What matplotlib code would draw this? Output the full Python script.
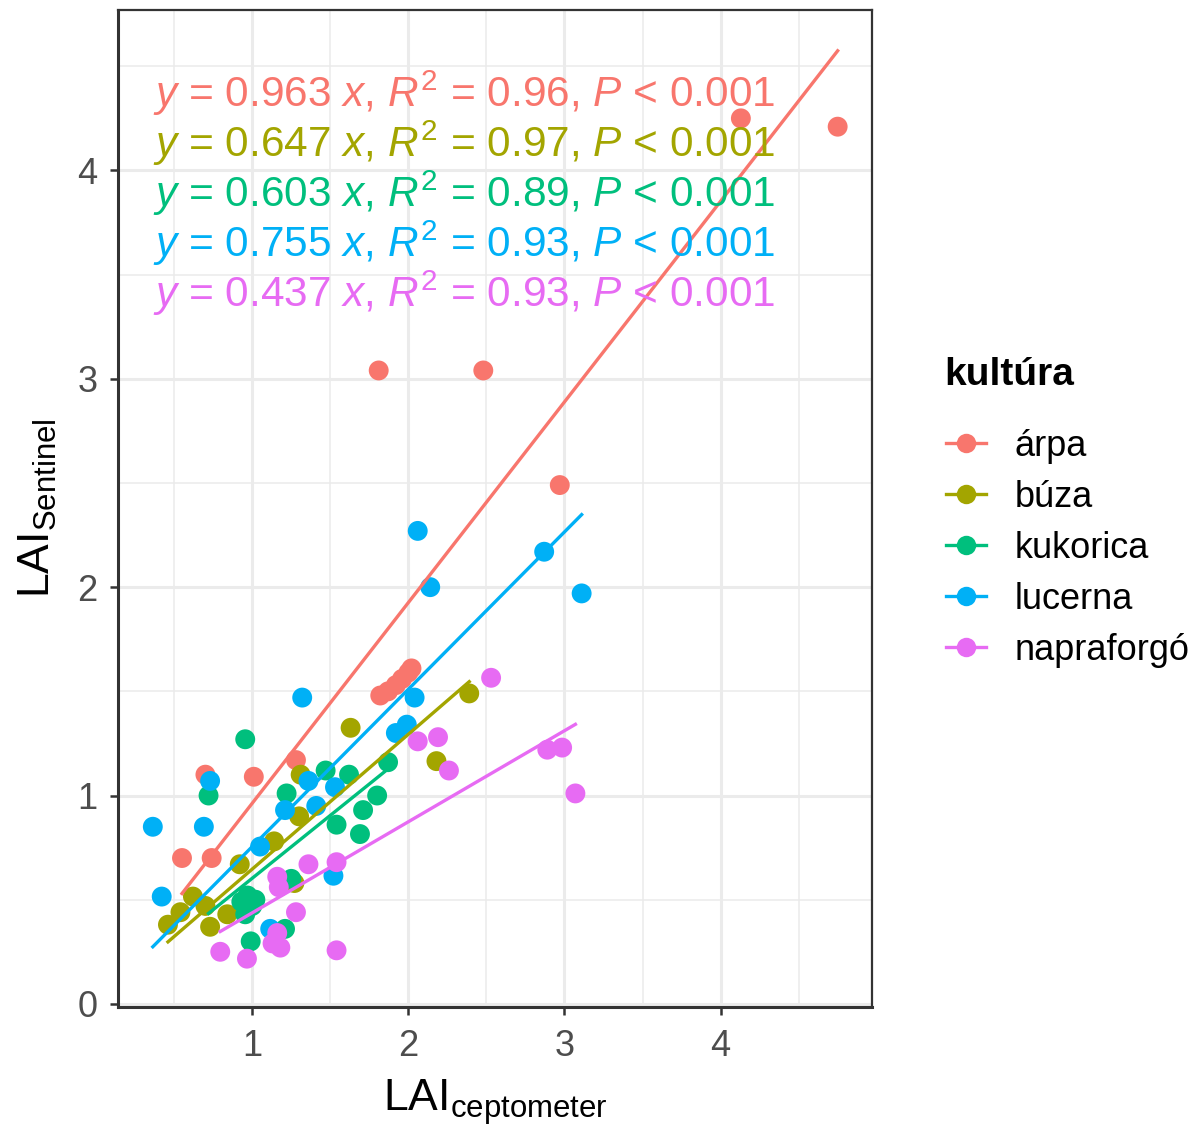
import matplotlib
matplotlib.use('Agg')
import matplotlib.pyplot as plt
from matplotlib.lines import Line2D
from matplotlib.ticker import MultipleLocator
import numpy as np

plt.rcParams['font.family'] = ['Liberation Sans', 'DejaVu Sans']
plt.rcParams['mathtext.fontset'] = 'custom'
plt.rcParams['mathtext.rm'] = 'Liberation Sans'
plt.rcParams['mathtext.it'] = 'Liberation Sans:italic'
plt.rcParams['mathtext.bf'] = 'Liberation Sans:bold'

# kultúrák és színek (ggplot alap paletta)
cultures = ['árpa', 'búza', 'kukorica', 'lucerna', 'napraforgó']
colors = ['#F8766D', '#A3A500', '#00BF7D', '#00B0F6', '#E76BF3']

# LAI ceptometer (x) / LAI Sentinel (y), képről leolvasva
arpa_x = [0.55, 0.70, 0.74, 1.01, 1.28, 1.81, 2.48, 2.97, 1.82, 1.87, 1.92, 1.96, 2.00, 2.02, 4.13, 4.75]
arpa_y = [0.70, 1.10, 0.70, 1.09, 1.17, 3.04, 3.04, 2.49, 1.48, 1.50, 1.53, 1.56, 1.59, 1.61, 4.25, 4.21]

buza_x = [0.46, 0.54, 0.62, 0.70, 0.73, 0.84, 0.92, 1.14, 1.30, 1.31, 1.27, 1.63, 2.18, 2.39]
buza_y = [0.38, 0.44, 0.515, 0.47, 0.37, 0.43, 0.67, 0.78, 0.90, 1.10, 0.58, 1.325, 1.165, 1.49]

kukorica_x = [0.72, 0.955, 0.93, 0.97, 1.00, 1.02, 0.955, 0.99, 1.21, 1.22, 1.25, 1.47, 1.62, 1.54, 1.69, 1.71, 1.80, 1.87]
kukorica_y = [1.00, 1.27, 0.49, 0.52, 0.47, 0.50, 0.43, 0.30, 0.36, 1.01, 0.60, 1.12, 1.10, 0.86, 0.815, 0.93, 1.00, 1.16]

lucerna_x = [0.363, 0.42, 0.69, 0.73, 1.05, 1.115, 1.21, 1.32, 1.36, 1.41, 1.52, 1.53, 1.92, 1.99, 2.04, 2.06, 2.14, 2.87, 3.11]
lucerna_y = [0.85, 0.515, 0.85, 1.07, 0.755, 0.36, 0.93, 1.47, 1.07, 0.95, 0.615, 1.04, 1.30, 1.34, 1.47, 2.27, 2.00, 2.17, 1.97]

napraforgo_x = [0.795, 0.966, 1.13, 1.16, 1.18, 1.16, 1.17, 1.28, 1.36, 1.54, 1.54, 2.06, 2.19, 2.26, 2.53, 2.89, 2.985, 3.07]
napraforgo_y = [0.25, 0.217, 0.29, 0.34, 0.27, 0.61, 0.56, 0.44, 0.67, 0.68, 0.257, 1.26, 1.28, 1.12, 1.565, 1.22, 1.23, 1.01]

xs_all = [arpa_x, buza_x, kukorica_x, lucerna_x, napraforgo_x]
ys_all = [arpa_y, buza_y, kukorica_y, lucerna_y, napraforgo_y]

# illesztés origón át: y = b x
slopes = [0.963, 0.647, 0.603, 0.755, 0.437]
r2_values = [0.96, 0.97, 0.89, 0.93, 0.93]

fig = plt.figure(figsize=(12.02, 11.30), dpi=100)
ax = fig.add_axes([118 / 1202, 1 - 1007 / 1130, 754 / 1202, 997 / 1130])

# pontok
for x, y, c in zip(xs_all, ys_all, colors):
    ax.scatter(x, y, s=205, color=c, edgecolors='none', zorder=3)

# regressziós egyenesek az adott kultúra x-tartományán
for x, b, c in zip(xs_all, slopes, colors):
    xl = np.array([min(x), max(x)])
    ax.plot(xl, b * xl, color=c, linewidth=2.4, zorder=4)

# egyenletek
for i, (b, r2, c) in enumerate(zip(slopes, r2_values, colors)):
    label = rf"$y$ = {b:.3f} $x$, $R^2$ = {r2:.2f}, $P$ < 0.001"
    ax.text(0.047, 1 - (93 + 50 * i - 10) / 997, label, transform=ax.transAxes,
            color=c, fontsize=30.5, va='center', ha='left', zorder=5)

ax.set_xlim(0.14, 4.97)
ax.set_ylim(-0.015, 4.77)
ax.xaxis.set_major_locator(MultipleLocator(1))
ax.yaxis.set_major_locator(MultipleLocator(1))
ax.xaxis.set_minor_locator(MultipleLocator(0.5))
ax.yaxis.set_minor_locator(MultipleLocator(0.5))
ax.grid(True, which='major', color='#EBEBEB', linewidth=2.2, zorder=0)
ax.grid(True, which='minor', color='#EBEBEB', linewidth=1.1, zorder=0)
ax.set_axisbelow(True)

ax.tick_params(axis='both', which='major', length=6, width=1.8, color='#333333',
               labelcolor='#4D4D4D', labelsize=26)
ax.tick_params(axis='x', which='major', pad=10)
ax.tick_params(axis='y', which='major', pad=9)
ax.tick_params(axis='both', which='minor', length=0)
for side, sp in ax.spines.items():
    sp.set_color('#333333')
    sp.set_linewidth(1.6)
ax.spines['left'].set_linewidth(2.2)
ax.spines['bottom'].set_linewidth(2.2)

ax.set_xlabel(r"LAI$_{\mathrm{ceptometer}}$", fontsize=32, labelpad=9)
ax.set_ylabel(r"LAI$_{\mathrm{Sentinel}}$", fontsize=32, labelpad=13)

handles = [Line2D([0], [0], color=c, linewidth=2.4, marker='o', markersize=14,
                  markeredgewidth=0) for c in colors]
fig.text(944 / 1202, 1 - 375 / 1130, 'kultúra', fontsize=28, fontweight='bold',
         ha='left', va='center')
leg = fig.legend(handles, cultures, loc='upper left',
                 bbox_to_anchor=(946 / 1202, 1 - 429 / 1130), frameon=False,
                 fontsize=26, handlelength=1.1,
                 handletextpad=0.8, labelspacing=0.44, borderaxespad=0,
                 borderpad=0)

fig.savefig('out.png', dpi=100)
